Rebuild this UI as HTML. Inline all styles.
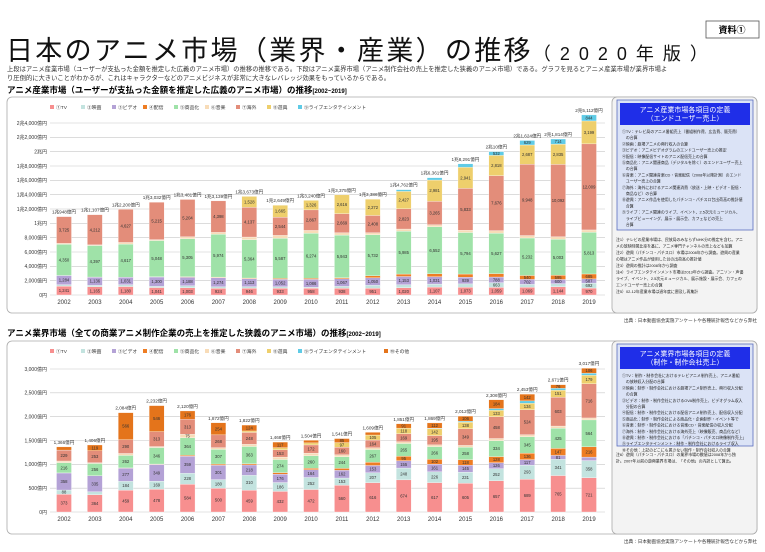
<!DOCTYPE html>
<html><head><meta charset="utf-8">
<style>
html,body{margin:0;padding:0;background:#fff;}
body{width:765px;height:547px;overflow:hidden;font-family:"Liberation Sans","Noto Sans CJK JP",sans-serif;}
svg text{font-family:"Liberation Sans","Noto Sans CJK JP",sans-serif;}
</style></head>
<body>
<svg id="page" width="765" height="547" viewBox="0 0 765 547" xmlns="http://www.w3.org/2000/svg">
  <rect x="706" y="21" width="53" height="17" fill="#fff" stroke="#555" stroke-width="0.8"/>
  <text x="732" y="33" font-size="9" font-weight="bold" text-anchor="middle">資料①</text>
  <text x="6" y="60" font-size="27" letter-spacing="2.3" fill="#111">日本のアニメ市場（業界・産業）の推移<tspan font-size="18" letter-spacing="9">（2020年版）</tspan></text>
  <text x="7" y="71" font-size="6.3" fill="#333">上段はアニメ産業市場（ユーザーが支払った金額を推定した広義のアニメ市場）の推移の推移である。下段はアニメ業界市場（アニメ制作会社の売上を推定した狭義のアニメ市場）である。グラフを見るとアニメ産業市場が業界市場よ</text>
  <text x="7" y="80" font-size="6.3" fill="#333">り圧倒的に大きいことがわかるが、これはキャラクターなどのアニメビジネスが非常に大きなレバレッジ効果をもっているからである。</text>
  <text x="7" y="93" font-size="8.5" font-weight="bold">アニメ産業市場（ユーザーが支払った金額を推定した広義のアニメ市場）の推移<tspan font-size="6">[2002~2019]</tspan></text>
  <text x="7" y="336" font-size="8.5" font-weight="bold">アニメ業界市場（全ての商業アニメ制作企業の売上を推定した狭義のアニメ市場）の推移<tspan font-size="6">[2002~2019]</tspan></text>

  <rect x="7" y="97" width="750" height="216" rx="5" fill="#fff" stroke="#aaa" stroke-width="0.8"/>
  <rect x="7" y="341" width="750" height="193" rx="5" fill="#fff" stroke="#aaa" stroke-width="0.8"/>
  <rect x="612" y="97" width="145" height="216" rx="5" fill="#f3f3f3" stroke="#aaa" stroke-width="0.8"/>
  <rect x="612" y="341" width="145" height="193" rx="5" fill="#f3f3f3" stroke="#aaa" stroke-width="0.8"/>

  <g id="side1"></g>
  <g id="side2"></g>
  <g id="chart1"></g>
  <g id="chart2"></g>

  <text x="757" y="322" font-size="4.6" text-anchor="end" fill="#333">出典：日本動画協会実施アンケートや各種統計報告などから弊社</text>
  <text x="757" y="543" font-size="4.6" text-anchor="end" fill="#333">出典：日本動画協会実施アンケートや各種統計報告などから弊社</text>
</svg>
<script>
const years = ["2002","2003","2004","2005","2006","2007","2008","2009","2010","2011","2012","2013","2014","2015","2016","2017","2018","2019"];

// Industry market (億円)
const indCategories = ["①TV","②映画","③ビデオ","④配信","⑤商品化","⑥音楽","⑦海外","⑧遊興","⑨ライブエンタテインメント"];
const indTV      = [1241,1165,1180,1041,1003,924,946,933,958,938,951,1020,1107,1073,1059,1069,1144,970];
const indMovie   = [196,195,260,170,284,212,208,208,138,263,400,410,417,477,663,410,426,692];
const indVideo   = [1284,1136,1031,1300,1188,1274,1113,1052,1086,1067,1050,1153,1031,939,788,702,600,587];
const indStream  = [3,10,18,40,84,88,100,123,148,148,272,340,408,437,478,540,595,685];
const indMerch   = [4350,4397,4617,5048,5305,5974,5364,5587,6274,5943,5732,5985,6552,5794,5627,5232,5003,5813];
const indMusic   = [138,91,225,129,261,263,358,414,406,326,283,296,282,321,369,344,358,331];
const indOverseas= [3725,4212,4627,5215,5204,4398,4137,2544,2867,2669,2408,2823,3265,5833,7676,9948,10092,12009];
const indPachinko= [0,0,0,0,0,0,1528,1665,1326,2616,2272,2427,2981,2941,2818,2687,2835,3199];
const indLive    = [0,0,0,0,0,0,0,0,0,0,0,248,318,484,532,629,714,844];
const indTotals  = ["1兆948億円","1兆1,107億円","1兆2,200億円","1兆3,032億円","1兆3,481億円","1兆3,139億円","1兆3,673億円","1兆2,649億円","1兆3,240億円","1兆3,375億円","1兆3,386億円","1兆4,762億円","1兆6,361億円","1兆8,291億円","2兆10億円","2兆1,624億円","2兆1,814億円","2兆5,112億円"];
const indTicks   = ["0円","2,000億円","4,000億円","6,000億円","8,000億円","1兆円","1兆2,000億円","1兆4,000億円","1兆6,000億円","1兆8,000億円","2兆円","2兆2,000億円","2兆4,000億円"];
const indTickVals= [0,2000,4000,6000,8000,10000,12000,14000,16000,18000,20000,22000,24000];

// Business market (億円)
const bizCategories = ["①TV","②映画","③ビデオ","④配信","⑤商品化","⑥音楽","⑦海外","⑧遊興","⑨ライブエンタテインメント","⑩その他"];
const bizTV      = [373,364,459,478,584,500,459,432,472,560,616,674,617,605,657,689,765,721];
const bizMovie   = [88,60,184,169,228,180,310,186,252,153,207,248,226,231,252,293,341,358];
const bizVideo   = [358,335,277,349,359,301,218,176,164,162,153,155,161,145,126,117,81,73];
const bizStream  = [1,3,5,10,21,25,24,33,31,40,68,95,102,118,128,136,147,216];
const bizMerch   = [216,256,262,346,364,307,363,274,260,244,267,265,266,258,334,345,425,564];
const bizMusic   = [34,16,41,21,75,37,47,51,56,40,35,36,36,40,45,42,44,41];
const bizOverseas= [229,253,290,313,313,268,248,153,172,160,164,169,195,349,458,524,603,716];
const bizPachinko= [0,0,0,0,0,0,31,45,43,97,105,118,142,138,133,134,151,179];
const bizLive    = [0,0,0,0,0,0,0,0,0,0,0,0,12,22,37,51,38,43];
const bizOther   = [67,119,566,546,176,254,124,117,54,85,56,91,112,106,184,142,76,106];
const bizTotals  = ["1,366億円","1,406億円","2,084億円","2,232億円","2,120億円","1,872億円","1,822億円","1,468億円","1,504億円","1,541億円","1,609億円","1,851億円","1,869億円","2,012億円","2,306億円","2,453億円","2,671億円","3,017億円"];
const bizTicks   = ["0円","500億円","1,000億円","1,500億円","2,000億円","2,500億円","3,000億円"];
const bizTickVals= [0,500,1000,1500,2000,2500,3000];

const NS = "http://www.w3.org/2000/svg";
function mk(tag, attrs, parent){
  const e = document.createElementNS(NS, tag);
  for (const k in attrs) e.setAttribute(k, attrs[k]);
  parent.appendChild(e);
  return e;
}
function fmt(v){ return v.toLocaleString("en-US"); }

const x0 = 64, xStep = (589-64)/17, barW = 15;
function xScale(i){ return x0 + i*xStep; }

function drawChart(g, cfg){
  const yS = v => cfg.y0 - (v/cfg.vmax)*(cfg.y0-cfg.yTop);
  cfg.tickVals.forEach((tv,i)=>{
    const y = yS(tv);
    const l = mk("line",{x1:50,x2:605,y1:y,y2:y,stroke:"#c8c8c8","stroke-width":0.6},g);
    
    
    const t = mk("text",{x:47,y:y+1.8,"font-size":5,"text-anchor":"end",fill:"#333"},g);
    
    
    t.textContent = cfg.ticks[i];
  });
  let lx = 50;
  cfg.categories.forEach((c,k)=>{
    const r = mk("rect",{x:lx,y:cfg.legendY-3,width:4,height:4,fill:cfg.colors[k]},g);
    
    
    const t = mk("text",{x:lx+6,y:cfg.legendY+0.8,"font-size":4.8,fill:"#333"},g);
    
    
    t.textContent = c;
    lx += (c.length>6 ? 86 : 31);
  });
  years.forEach((yr,i)=>{
    const cx = xScale(i);
    let acc = 0;
    cfg.series.forEach((s,k)=>{
      const v = s[i];
      if (v<=0) return;
      const yTop = yS(acc+v), yBot = yS(acc);
      const r = mk("rect",{x:cx-barW/2,y:yTop,width:barW,height:yBot-yTop,fill:cfg.colors[k],stroke:"#fff","stroke-width":0.3},g);
      
      
      if (yBot-yTop > 3.5){
        const t = mk("text",{x:cx,y:(yTop+yBot)/2+1.5,"font-size":4.2,"text-anchor":"middle",fill:"#333"},g);
        
        
        t.textContent = fmt(v);
      }
      acc += v;
    });
    const tt = mk("text",{x:cx,y:yS(acc)-3,"font-size":4.6,"text-anchor":"middle",fill:"#333"},g);
    
    
    tt.textContent = cfg.totals[i];
    const xl = mk("text",{x:cx,y:cfg.y0+9,"font-size":6,"text-anchor":"middle",fill:"#333"},g);
    
    
    xl.textContent = yr;
  });
}

const baseColors = ["#f78f8f","#c3e3df","#b4a2d6","#ee7d23","#9fe2a8","#f8dcb8","#e38d7a","#eecf6c","#5fcbe6","#e4741b"];

drawChart(document.getElementById("chart1"),{
  y0:295, yTop:123, vmax:24000, legendY:108,
  tickVals:indTickVals, ticks:indTicks, categories:indCategories, totals:indTotals,
  colors:baseColors.slice(0,9),
  series:[indTV,indMovie,indVideo,indStream,indMerch,indMusic,indOverseas,indPachinko,indLive]
});
drawChart(document.getElementById("chart2"),{
  y0:512, yTop:369, vmax:3000, legendY:352,
  tickVals:bizTickVals, ticks:bizTicks, categories:bizCategories, totals:bizTotals,
  colors:baseColors,
  series:[bizTV,bizMovie,bizVideo,bizStream,bizMerch,bizMusic,bizOverseas,bizPachinko,bizLive,bizOther]
});

function side(g, y, boxH, head1, head2, lines, notes, notesY){
  const b = mk("rect",{x:617,y:y,width:136,height:boxH,fill:"#dbe3f6",stroke:"#5a6fc0","stroke-width":0.8},g);
  
  
  const h = mk("rect",{x:620,y:y+3,width:130,height:22,fill:"#1f2ee8"},g);
  
  
  [head1,head2].forEach((s,i)=>{
    const t = mk("text",{x:685,y:y+12+i*8.5,"font-size":7,"text-anchor":"middle",fill:"#fff"},g);
    
    
    t.textContent = s;
  });
  lines.forEach((s,i)=>{
    const t = mk("text",{x:622,y:y+33+i*6.2,"font-size":3.9,fill:"#222"},g);
    
    
    t.textContent = s;
  });
  notes.forEach((s,i)=>{
    const t = mk("text",{x:616,y:notesY+i*6.5,"font-size":3.9,fill:"#222"},g);
    
    
    t.textContent = s;
  });
}
side(document.getElementById("side1"),100,130,"アニメ産業市場各項目の定義","（エンドユーザー売上）",
 ["①TV：テレビ局のアニメ番組売上（番組制作費、広告費、販売費）","　の合算","②映画：劇場アニメの興行収入の合算","③ビデオ：アニメビデオグラムのエンドユーザー売上の推定","④配信：映像配信サイトのアニメ配信売上の合算","⑤商品化：アニメ関連商品（デジタルを除く）のエンドユーザー売上","　の合算","⑥音楽：アニメ関連音楽CD・音楽配信（2008年以降計測）のエンド","　ユーザー売上の合算","⑦海外：海外におけるアニメ関連消費（放送・上映・ビデオ・配信・","　商品など）の合算","⑧遊興：アニメ作品を使用したパチンコ・パチスロ台出荷高の推計値","　合算","⑨ライブ：アニメ関連のライブ、イベント、2.5次元ミュージカル、","　ライブビューイング、展示・展示会、カフェなどの売上","　合算"],
 ["注1）テレビの産業市場は、民放局のみならずNHK分の推定を含む。アニ","メの放映時間比率を基に、アニメ専門チャンネルの売上なども加算","注2）遊興（パチンコ・パチスロ）市場は2008年から調査。遊興の産業","の場はアニメ作品が使用した台の出荷高の推計値","注3）遊興の推計は2008年から調査","注4）ライブエンタテインメント市場は2013年から調査。アニソン・声優","ライブ、イベント、2.5次元ミュージカル、展示施設・展示会、カフェの","エンドユーザー売上の合算","注5）02-12年産業市場は過年度に遡及し再集計"],241);
side(document.getElementById("side2"),344,102,"アニメ業界市場各項目の定義","（制作・制作会社売上）",
 ["①TV：制作・制作会社におけるテレビアニメ制作売上、アニメ番組","　の放映収入分配の合算","②映画：制作・制作会社における劇場アニメ制作売上、興行収入分配","　の合算","③ビデオ：制作・制作会社におけるOVA制作売上、ビデオグラム収入","　分配の合算","④配信：制作・制作会社における配信アニメ制作売上、配信収入分配","⑤商品化：制作・制作会社による商品化・企画制作・イベント等で","⑥音楽：制作・制作会社における音楽CD・音楽配信の収入分配","⑦海外：制作・制作会社における海外売上（映像販売、商品化など）","⑧遊興：制作・制作会社における「パチンコ・パチスロ映像制作売上」","⑨ライブエンタテインメント：制作・制作会社におけるライブ収入","⑩その他：上記のどこにも属さない制作・制作会社収入の合算"],
 ["注6）遊興（パチンコ・パチスロ）の業界市場の数値は2008年から独","計。2007年以前の遊興業界市場は、「その他」の内訳として算出。"],456);
</script>
</body></html>
